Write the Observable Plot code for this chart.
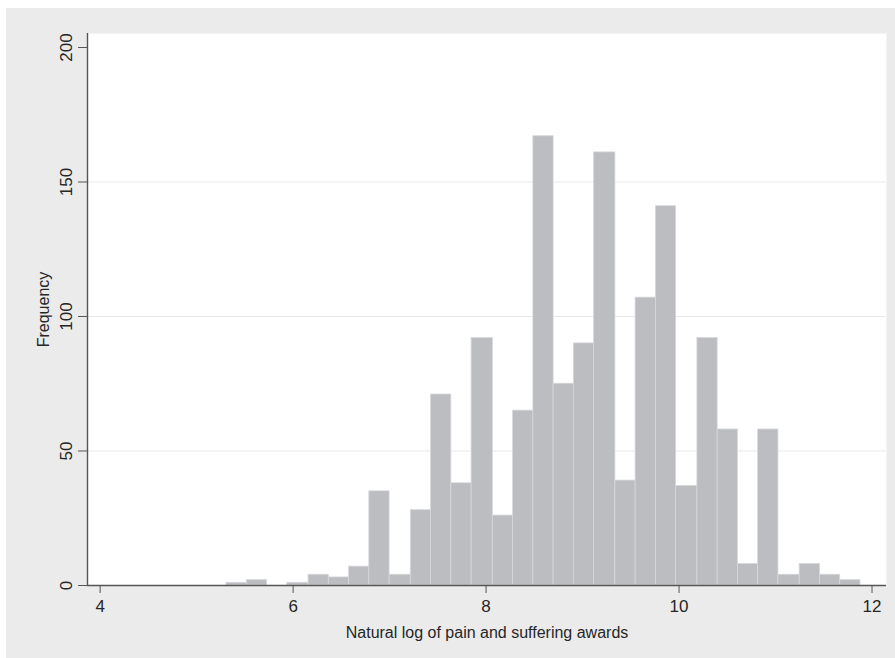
<!DOCTYPE html>
<html>
<head>
<meta charset="utf-8">
<script src="https://cdn.jsdelivr.net/npm/d3@7"></script>
<script src="https://cdn.jsdelivr.net/npm/@observablehq/plot@0.6"></script>
<style>
  html, body { margin: 0; padding: 0; background: #ffffff; }
  #panel { position: absolute; left: 6px; top: 8px; width: 889px; height: 650px; background: #ebebec; }
  #panel svg { display: block; }
</style>
</head>
<body>
<div id="panel"></div>
<script>
// Histogram bin edges (natural log of award)
const binEdges = [5.31, 5.52, 5.73, 5.94, 6.16, 6.37, 6.58, 6.79, 7.00, 7.22, 7.43, 7.64, 7.85, 8.07, 8.28, 8.49,
                  8.70, 8.91, 9.12, 9.34, 9.55, 9.76, 9.97, 10.19, 10.40, 10.61, 10.82, 11.03, 11.25, 11.46, 11.67, 11.88];
// Frequency per bin
const counts = [1, 2, 0, 1, 4, 3, 7, 35, 4, 28, 71, 38, 92, 26, 65, 167,
                75, 90, 161, 39, 107, 141, 37, 92, 58, 8, 58, 4, 8, 4, 2];
const xTicks = [4, 6, 8, 10, 12];
const yTicks = [0, 50, 100, 150, 200];
const gridValues = [50, 100, 150];
const xTitle = "Natural log of pain and suffering awards";
const yTitle = "Frequency";

const bins = counts.map((c, i) => ({x1: binEdges[i], x2: binEdges[i + 1], count: c}));

const font = "'Liberation Sans', Arial, Helvetica, sans-serif";
const textColor = "#262626";
const axisColor = "#555555";

const chart = Plot.plot({
  width: 889,
  height: 650,
  marginLeft: 81,
  marginRight: 9,
  marginTop: 25,
  marginBottom: 73,
  style: {background: "transparent", fontFamily: font, color: textColor},
  x: {domain: [3.869, 12.15], axis: null},
  y: {domain: [0, 205.2], axis: null},
  marks: [
    Plot.frame({fill: "#ffffff", stroke: null}),
    Plot.ruleY(gridValues, {stroke: "#e9e9eb", strokeWidth: 1.2}),
    Plot.rectY(bins, {x1: "x1", x2: "x2", y: "count", fill: "#bcbdc1", stroke: "#d6d7d9", strokeWidth: 0.8}),
    // axis lines
    Plot.ruleY([0], {stroke: axisColor, strokeWidth: 1.4}),
    Plot.ruleX([3.869], {stroke: axisColor, strokeWidth: 1.4}),
    // x axis ticks and labels
    Plot.axisX(xTicks, {tickSize: 8, tickPadding: 6, fontSize: 17, stroke: axisColor, fill: textColor, label: null, tickFormat: d => d}),
    // y axis ticks
    Plot.axisY(yTicks, {tickSize: 9, tickFormat: () => "", stroke: axisColor, label: null}),
    // y tick labels, rotated
    Plot.text(yTicks, {y: d => d, frameAnchor: "left", dx: -21, rotate: -90, text: d => String(d), fontSize: 17, fill: textColor, textAnchor: "middle", lineAnchor: "middle"}),
    // axis titles
    Plot.text([yTitle], {frameAnchor: "left", dx: -44, rotate: -90, fontSize: 16, fill: textColor, textAnchor: "middle", lineAnchor: "middle"}),
    Plot.text([xTitle], {frameAnchor: "bottom", dy: 47, fontSize: 16, fill: textColor, textAnchor: "middle", lineAnchor: "middle"})
  ]
});

document.getElementById("panel").appendChild(chart);
</script>
</body>
</html>
